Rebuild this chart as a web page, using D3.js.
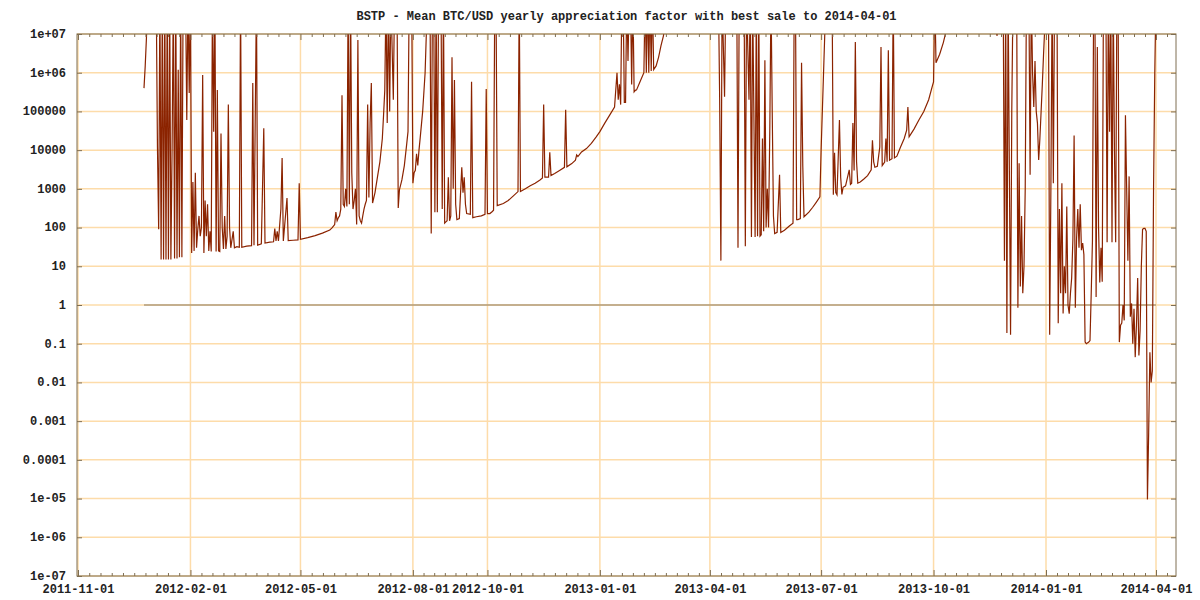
<!DOCTYPE html>
<html><head><meta charset="utf-8">
<script src="https://cdn.jsdelivr.net/npm/d3@7"></script>
<style>body{margin:0;background:#fff}svg{display:block}</style>
</head><body><svg id="c" width="1200" height="600"></svg>
<script>
const title = "BSTP - Mean BTC/USD yearly appreciation factor with best sale to 2014-04-01";
const xTickLabels = ["2011-11-01","2012-02-01","2012-05-01","2012-08-01","2012-10-01","2013-01-01","2013-04-01","2013-07-01","2013-10-01","2014-01-01","2014-04-01"];
const yTickValues = [1e-7,1e-6,1e-5,1e-4,1e-3,1e-2,1e-1,1,10,100,1000,10000,100000,1e6,1e7];
const yTickLabels = ["1e-07","1e-06","1e-05","0.0001","0.001","0.01","0.1","1","10","100","1000","10000","100000","1e+06","1e+07"];
const breakEvenDates = ["2011-12-25","2014-04-01"];
const breakEvenValues = [1,1];

const dates = [
"2011-12-25","2011-12-26","2011-12-27","2011-12-28",
"2012-01-04","2012-01-05","2012-01-06","2012-01-07","2012-01-08","2012-01-09","2012-01-10","2012-01-11","2012-01-12","2012-01-13","2012-01-14","2012-01-15","2012-01-16","2012-01-17","2012-01-18","2012-01-19","2012-01-20","2012-01-21","2012-01-22","2012-01-23","2012-01-24","2012-01-25","2012-01-26","2012-01-28","2012-01-29","2012-01-30","2012-01-31",
"2012-02-01","2012-02-02","2012-02-03","2012-02-04","2012-02-05","2012-02-06","2012-02-07","2012-02-08","2012-02-09","2012-02-10","2012-02-11","2012-02-12","2012-02-13","2012-02-14","2012-02-15","2012-02-16","2012-02-17","2012-02-18","2012-02-19","2012-02-20","2012-02-21","2012-02-22","2012-02-23","2012-02-24","2012-02-25","2012-02-26","2012-02-27","2012-02-28","2012-02-29",
"2012-03-01","2012-03-02","2012-03-03","2012-03-04","2012-03-05","2012-03-07","2012-03-08","2012-03-10","2012-03-12","2012-03-13","2012-03-14","2012-03-18","2012-03-22","2012-03-23","2012-03-24","2012-03-26","2012-03-27","2012-03-30",
"2012-04-01","2012-04-02","2012-04-06","2012-04-09","2012-04-10","2012-04-11","2012-04-12","2012-04-13","2012-04-15","2012-04-16","2012-04-17","2012-04-20","2012-04-21","2012-04-25","2012-04-29","2012-04-30",
"2012-05-01","2012-05-07","2012-05-13","2012-05-19","2012-05-25","2012-05-27","2012-05-29","2012-05-30","2012-05-31",
"2012-06-01","2012-06-02","2012-06-03","2012-06-04","2012-06-05","2012-06-06","2012-06-07","2012-06-08","2012-06-09","2012-06-10","2012-06-11","2012-06-12","2012-06-13","2012-06-14","2012-06-15","2012-06-16","2012-06-17","2012-06-18","2012-06-19","2012-06-20","2012-06-21","2012-06-22","2012-06-23","2012-06-24","2012-06-25","2012-06-26","2012-06-27","2012-06-28","2012-06-29",
"2012-07-01","2012-07-03","2012-07-05","2012-07-07","2012-07-08","2012-07-09","2012-07-10","2012-07-11","2012-07-12","2012-07-13","2012-07-14","2012-07-16","2012-07-17","2012-07-19","2012-07-20","2012-07-21","2012-07-23","2012-07-25","2012-07-27","2012-07-28","2012-07-29","2012-07-31",
"2012-08-01","2012-08-02","2012-08-03","2012-08-04","2012-08-05","2012-08-06","2012-08-07","2012-08-09","2012-08-11","2012-08-12","2012-08-13","2012-08-15","2012-08-16","2012-08-17","2012-08-18","2012-08-19","2012-08-20","2012-08-21","2012-08-22","2012-08-24","2012-08-25","2012-08-26","2012-08-27","2012-08-28","2012-08-29","2012-08-30","2012-08-31",
"2012-09-01","2012-09-02","2012-09-03","2012-09-04","2012-09-05","2012-09-06","2012-09-08","2012-09-10","2012-09-11","2012-09-12","2012-09-13","2012-09-14","2012-09-17","2012-09-18","2012-09-19","2012-09-22","2012-09-26","2012-09-29","2012-09-30",
"2012-10-01","2012-10-03","2012-10-05","2012-10-06","2012-10-07","2012-10-08","2012-10-09","2012-10-14","2012-10-18","2012-10-22","2012-10-26","2012-10-27","2012-10-28",
"2012-11-01","2012-11-05","2012-11-09","2012-11-13","2012-11-15","2012-11-16","2012-11-17","2012-11-20","2012-11-21","2012-11-22","2012-11-25","2012-11-29",
"2012-12-03","2012-12-04","2012-12-05","2012-12-09","2012-12-12","2012-12-13","2012-12-14","2012-12-17","2012-12-21","2012-12-25","2012-12-29",
"2013-01-01","2013-01-05","2013-01-09","2013-01-13","2013-01-15","2013-01-16","2013-01-17","2013-01-18","2013-01-19","2013-01-20","2013-01-21","2013-01-22","2013-01-23","2013-01-24","2013-01-25","2013-01-26","2013-01-27","2013-01-28","2013-01-29","2013-01-30","2013-01-31",
"2013-02-03","2013-02-06","2013-02-07","2013-02-08","2013-02-09","2013-02-10","2013-02-11","2013-02-12","2013-02-13","2013-02-14","2013-02-16","2013-02-18","2013-02-20","2013-02-22","2013-02-23",
"2013-03-15",
"2013-04-08","2013-04-09","2013-04-10","2013-04-11","2013-04-13","2013-04-14","2013-04-19","2013-04-23","2013-04-24","2013-04-25","2013-04-29","2013-04-30",
"2013-05-01","2013-05-03","2013-05-04","2013-05-05","2013-05-06","2013-05-08","2013-05-09","2013-05-10","2013-05-11","2013-05-12","2013-05-13","2013-05-14","2013-05-15","2013-05-16","2013-05-17","2013-05-18","2013-05-19","2013-05-20","2013-05-21","2013-05-22","2013-05-23","2013-05-24","2013-05-26","2013-05-28","2013-05-29",
"2013-06-01","2013-06-05","2013-06-08","2013-06-09","2013-06-10","2013-06-11","2013-06-12","2013-06-14","2013-06-15","2013-06-16","2013-06-17","2013-06-21","2013-06-24","2013-06-27","2013-06-30",
"2013-07-01","2013-07-03","2013-07-05","2013-07-08","2013-07-10","2013-07-11","2013-07-12","2013-07-13","2013-07-14","2013-07-16","2013-07-17","2013-07-18","2013-07-19","2013-07-21","2013-07-24","2013-07-25","2013-07-26","2013-07-27","2013-07-28","2013-07-29","2013-07-30","2013-07-31",
"2013-08-02","2013-08-05","2013-08-08","2013-08-11","2013-08-12","2013-08-13","2013-08-14","2013-08-16","2013-08-18","2013-08-19","2013-08-20","2013-08-22","2013-08-23","2013-08-24","2013-08-25","2013-08-26","2013-08-28","2013-08-29","2013-08-30",
"2013-09-01","2013-09-04","2013-09-07","2013-09-09","2013-09-10","2013-09-11","2013-09-15","2013-09-19","2013-09-23","2013-09-27","2013-09-30",
"2013-10-01","2013-10-02","2013-10-03","2013-10-06","2013-10-09","2013-10-11","2013-10-13","2013-10-31",
"2013-11-21","2013-11-22","2013-11-23","2013-11-27","2013-11-28","2013-11-29","2013-11-30",
"2013-12-01","2013-12-03","2013-12-04","2013-12-05","2013-12-08","2013-12-09","2013-12-10","2013-12-11","2013-12-12","2013-12-13","2013-12-14","2013-12-15","2013-12-16","2013-12-18","2013-12-19","2013-12-20","2013-12-21","2013-12-22","2013-12-23","2013-12-24","2013-12-25","2013-12-26","2013-12-27","2013-12-28","2013-12-29","2013-12-30","2013-12-31",
"2014-01-03","2014-01-04","2014-01-05","2014-01-06","2014-01-07","2014-01-08","2014-01-10","2014-01-11","2014-01-12","2014-01-13","2014-01-14","2014-01-15","2014-01-16","2014-01-17","2014-01-18","2014-01-19","2014-01-20","2014-01-21","2014-01-22","2014-01-23","2014-01-24","2014-01-25","2014-01-26","2014-01-27","2014-01-28","2014-01-29","2014-01-30","2014-01-31",
"2014-02-01","2014-02-02","2014-02-03","2014-02-05","2014-02-06","2014-02-07","2014-02-08","2014-02-09","2014-02-10","2014-02-11","2014-02-12","2014-02-13","2014-02-14","2014-02-15","2014-02-16","2014-02-17","2014-02-19","2014-02-20","2014-02-21","2014-02-22","2014-02-23","2014-02-24","2014-02-25","2014-02-26","2014-02-27","2014-02-28",
"2014-03-01","2014-03-02","2014-03-03","2014-03-04","2014-03-05","2014-03-06","2014-03-07","2014-03-08","2014-03-09","2014-03-10","2014-03-11","2014-03-12","2014-03-13","2014-03-14","2014-03-15","2014-03-16","2014-03-17","2014-03-18","2014-03-19","2014-03-20","2014-03-21","2014-03-22","2014-03-23","2014-03-24","2014-03-25","2014-03-26","2014-03-27","2014-03-28","2014-03-29","2014-03-30","2014-03-31",
"2014-04-01"
];

const values = [
4e5,1.5e6,8e6,1e8,
1e8,1.2e4,90,1e8,15,1e8,15,1e8,15,1e8,15,1e8,15,1.2e4,1e8,16,1e8,16,1.2e6,17,1e8,17,1e8,1e8,6e4,1e8,3e5,
1e8,22,1.5e3,25,2.6e3,30,90,200,60,100,8.7e5,22,500,60,400,25,80,24,1e8,3e4,1e8,24,3.6e5,25,24,2.7e4,100,28,200,
28,60,1.5e5,100,30,80,30,32,31,1e8,31,33,34,5.4e5,35,1e8,35,38,
3.7e4,40,42,43,95,45,80,45,300,6.3e3,45,580,46,47,48,1.4e3,
50,55,62,72,86,100,120,250,150,
180,200,300,2.6e5,400,350,1e3,350,1e8,400,1e8,2.6e3,300,500,1e3,120,7e6,200,150,130,200,300,400,500,1.5e5,600,5e4,5.4e5,430,
800,2e3,5e3,2e4,8e4,3.5e5,1e8,5e4,1e8,1e5,1e8,2e5,1e8,1e8,320,950,1.7e3,4e3,1.5e4,3e4,1e8,1e8,
1.4e3,2.6e3,3e3,8e3,4e3,1e4,2.1e4,1e5,1e6,1e7,1e8,1e8,70,1e8,1e8,250,1e8,250,1e8,1e8,300,1e8,130,140,150,2e3,150,
200,2.5e6,1e3,6.5e5,400,160,170,3.6e3,800,2e3,400,230,220,5.8e5,180,190,200,220,3.8e5,
230,230,260,280,1e8,1e8,370,420,500,650,850,1e8,850,
1e3,1.2e3,1.4e3,1.7e3,1.9e3,1.5e5,2e3,2e3,8.8e3,2.2e3,2.5e3,3e3,
3.6e3,1.1e5,3.7e3,4.5e3,5.5e3,7.5e3,6.8e3,9e3,1.1e4,1.5e4,2.2e4,
3e4,5e4,8e4,1.3e5,1e6,2e5,5e5,1.5e5,1e8,1e8,1.7e5,1.7e5,1e8,2e6,1e8,1e8,5e5,1e8,3.2e5,3.5e5,3.6e5,
6e5,1e6,1e8,1e6,1e8,1e6,1e8,1.1e6,1e8,1.2e6,1.5e6,2.5e6,5e6,9e6,1.5e7,
1e9,
1e8,2e5,14,1e8,2.4e5,1e8,1e9,1e8,30,1e8,1e8,33,
1e8,2e5,1e8,57,1e8,57,1e8,60,1e8,60,65,2e4,80,2.1e6,100,1e3,100,3e4,1e8,1e5,200,70,75,2.3e3,75,
85,110,130,1e8,1e8,160,160,170,1.8e6,4e3,190,250,330,450,620,
1e4,1e6,1e8,1e9,1e8,700,8.5e3,800,700,6e4,2e3,720,1.1e3,1.2e3,3.1e3,1.3e3,1.4e3,5e4,3e3,6.2e6,5e3,1.4e3,
1.5e3,1.8e3,2.2e3,3.1e3,1.8e4,5e3,3.6e3,3.8e3,1.2e4,4.6e6,4e3,4.9e3,2e4,5e3,3.8e6,5.5e3,6e3,1e8,6.3e3,
7e3,1.2e4,2e4,3.3e4,1.3e5,2.2e4,3.5e4,6e4,1e5,2e5,4.5e5,
5.8e5,1e8,1.8e6,3e6,6e6,1.1e7,2e7,1e9,
1.2e7,9e6,1e8,1e8,14,1e8,0.19,
1e8,0.17,1e5,1e8,1e8,0.85,4.6e3,3,200,2,10,1e3,1e8,1e8,2.3e3,1e8,1e6,1.3e5,2e6,1e5,5e4,5.6e3,2e4,1e5,5e5,3e6,1.5e7,
1e8,0.17,1e3,1e8,1.4e3,1e8,1e8,0.34,300,2,1.4e3,0.6,10,2,350,1,0.6,2,5,50,2.4e4,0.85,50,300,30,400,26,40,
20,0.11,0.1,0.11,0.12,2,45,1e8,1e8,1.6,4.6e6,100,3.8,30,4,1e8,1e8,42,1e8,3e4,1e8,42,1e8,1e4,42,1e8,
1e8,0.11,0.3,0.34,1,0.4,8e4,1e3,14,2.1e3,0.5,1.1,0.1,0.8,0.045,0.3,5,0.05,0.22,10,90,95,95,80,9.4e-6,5e-4,0.06,0.01,0.02,1e3,1e6,
1e8
];

const L = 77, R = 1176, T = 34, B = 576;
const parse = d3.utcParse("%Y-%m-%d");
const x = d3.scaleUtc().domain([parse("2011-11-01"), parse("2014-04-01")]).range([78, 1156]);
const y = d3.scaleLog().domain([1e-7, 1e7]).range([B, T]);

if (dates.length !== values.length) console.error("length mismatch", dates.length, values.length);
const series = dates.map((d, i) => ({date: parse(d), v: values[i]}));
const breakEven = breakEvenDates.map((d, i) => ({date: parse(d), v: breakEvenValues[i]}));

const svg = d3.select("#c");
const font = "'Liberation Mono', 'Courier New', monospace";
const gridColor = "#fddcaa";
const frameColor = "#7f6e52";

svg.append("defs").append("clipPath").attr("id", "clip")
  .append("rect").attr("x", L).attr("y", T).attr("width", R - L).attr("height", B - T);

const majorDates = xTickLabels.map(parse);
svg.append("g").selectAll("line").data(yTickValues).join("line")
  .attr("x1", L).attr("x2", R).attr("y1", d => y(d)).attr("y2", d => y(d))
  .attr("stroke", gridColor).attr("stroke-width", 1.5);
svg.append("g").selectAll("line").data(majorDates).join("line")
  .attr("y1", T).attr("y2", B).attr("x1", d => x(d)).attr("x2", d => x(d))
  .attr("stroke", gridColor).attr("stroke-width", 1.5);

const minorDates = [];
for (let i = 0; i < majorDates.length - 1; i++) {
  const a = majorDates[i], b = majorDates[i + 1];
  const n = Math.max(1, Math.round((b - a) / 864e5 / 9.2));
  for (let k = 1; k < n; k++) minorDates.push(new Date(+a + (b - a) * k / n));
}
const lastMinorStep = (majorDates[10] - majorDates[9]) / 10;
for (let t = +majorDates[10] + lastMinorStep; x(new Date(t)) < R - 2; t += lastMinorStep) minorDates.push(new Date(t));

const line = d3.line().x(d => x(d.date)).y(d => y(d.v));
svg.append("path").datum(breakEven).attr("d", line)
  .attr("fill", "none").attr("stroke", "#8c7b5e").attr("stroke-width", 1.2);
svg.append("path").datum(series).attr("d", line).attr("clip-path", "url(#clip)")
  .attr("fill", "none").attr("stroke", "#8b2300").attr("stroke-width", 1.2);

const gBottom = svg.append("g").attr("transform", `translate(0,${B})`)
  .call(d3.axisBottom(x).tickValues(majorDates).tickFormat(d3.utcFormat("%Y-%m-%d")).tickSize(-6).tickPadding(8));
const gTop = svg.append("g").attr("transform", `translate(0,${T})`)
  .call(d3.axisTop(x).tickValues(majorDates).tickFormat("").tickSize(-6));
const gLeft = svg.append("g").attr("transform", `translate(${L},0)`)
  .call(d3.axisLeft(y).tickValues(yTickValues).tickFormat((d, i) => yTickLabels[i]).tickSize(-5).tickPadding(11));
const gRight = svg.append("g").attr("transform", `translate(${R},0)`)
  .call(d3.axisRight(y).tickValues(yTickValues).tickFormat("").tickSize(-5));
const gMinorB = svg.append("g").attr("transform", `translate(0,${B})`)
  .call(d3.axisBottom(x).tickValues(minorDates).tickFormat("").tickSize(-3));
const gMinorT = svg.append("g").attr("transform", `translate(0,${T})`)
  .call(d3.axisTop(x).tickValues(minorDates).tickFormat("").tickSize(-3));
[gBottom, gTop, gLeft, gRight, gMinorB, gMinorT].forEach(g => {
  g.select(".domain").remove();
  g.selectAll(".tick line").attr("stroke", frameColor);
  g.selectAll("text").attr("font-family", font).attr("font-size", 12).attr("font-weight", "bold").attr("fill", "#222");
});
gLeft.selectAll("text").attr("dy", "0.28em");

svg.append("rect").attr("x", L).attr("y", T).attr("width", R - L).attr("height", B - T)
  .attr("fill", "none").attr("stroke", frameColor).attr("stroke-width", 1);

svg.append("text").attr("x", (L + R) / 2).attr("y", 20).attr("text-anchor", "middle")
  .attr("font-family", font).attr("font-size", 12).attr("font-weight", "bold").attr("fill", "#222").text(title);
</script></body></html>
